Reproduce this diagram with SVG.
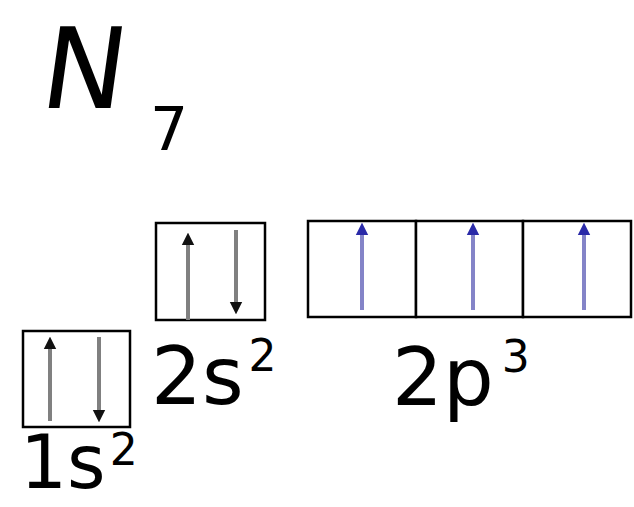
<svg xmlns="http://www.w3.org/2000/svg" width="634" height="507" viewBox="0 0 634 507">
<style>
.box{fill:#fff;stroke:#000;stroke-width:2.5}
.g{stroke:#808080;stroke-width:4}
.b{stroke:#8484c8;stroke-width:4}
.t{font-family:"DejaVu Sans","Liberation Sans",sans-serif;fill:#000}
.m{font-size:80px}
.s{font-size:44px}
</style>
<defs>
<marker id="hk" viewBox="0 0 10 10" refX="5" refY="5" markerWidth="3.2" markerHeight="4.2" orient="auto" markerUnits="strokeWidth"><path d="M0,0 L10,5 L0,10 z" fill="#111"/></marker>
<marker id="hb" viewBox="0 0 10 10" refX="5" refY="5" markerWidth="3.2" markerHeight="4.2" orient="auto" markerUnits="strokeWidth"><path d="M0,0 L10,5 L0,10 z" fill="#2a2aa8"/></marker>
</defs>
<rect width="634" height="507" fill="#fff"/>
<g id="title">
<text class="t" x="38" y="108" font-size="112" transform="skewX(-8) translate(15,0)">N</text>
<text class="t" x="150" y="150" font-size="60">7</text>
</g>
<g id="orb1s">
<rect class="box" x="23" y="331" width="107" height="96"/>
<text class="t" x="20" y="488" style="font-size:74px">1s<tspan class="s" dx="4" dy="-23">2</tspan></text>
</g>
<g id="orb2s">
<rect class="box" x="156" y="223" width="109" height="97"/>
<text class="t m" x="151" y="404">2s<tspan class="s" dx="5" dy="-33">2</tspan></text>
</g>
<g id="orb2p">
<rect class="box" x="308" y="221" width="108" height="96"/>
<rect class="box" x="416" y="221" width="107" height="96"/>
<rect class="box" x="523" y="221" width="108" height="96"/>
<text class="t m" x="392" y="405">2p<tspan class="s" dx="8" dy="-33">3</tspan></text>
</g>
<g id="connectors">
<line class="g" x1="50" y1="421" x2="50" y2="343" marker-end="url(#hk)"/>
<line class="g" x1="99" y1="337" x2="99" y2="416" marker-end="url(#hk)"/>
<line class="g" x1="188" y1="320" x2="188" y2="239" marker-end="url(#hk)"/>
<line class="g" x1="236" y1="230" x2="236" y2="308" marker-end="url(#hk)"/>
<line class="b" x1="362" y1="310" x2="362" y2="229" marker-end="url(#hb)"/>
<line class="b" x1="473" y1="310" x2="473" y2="229" marker-end="url(#hb)"/>
<line class="b" x1="584" y1="310" x2="584" y2="229" marker-end="url(#hb)"/>
</g>
</svg>
